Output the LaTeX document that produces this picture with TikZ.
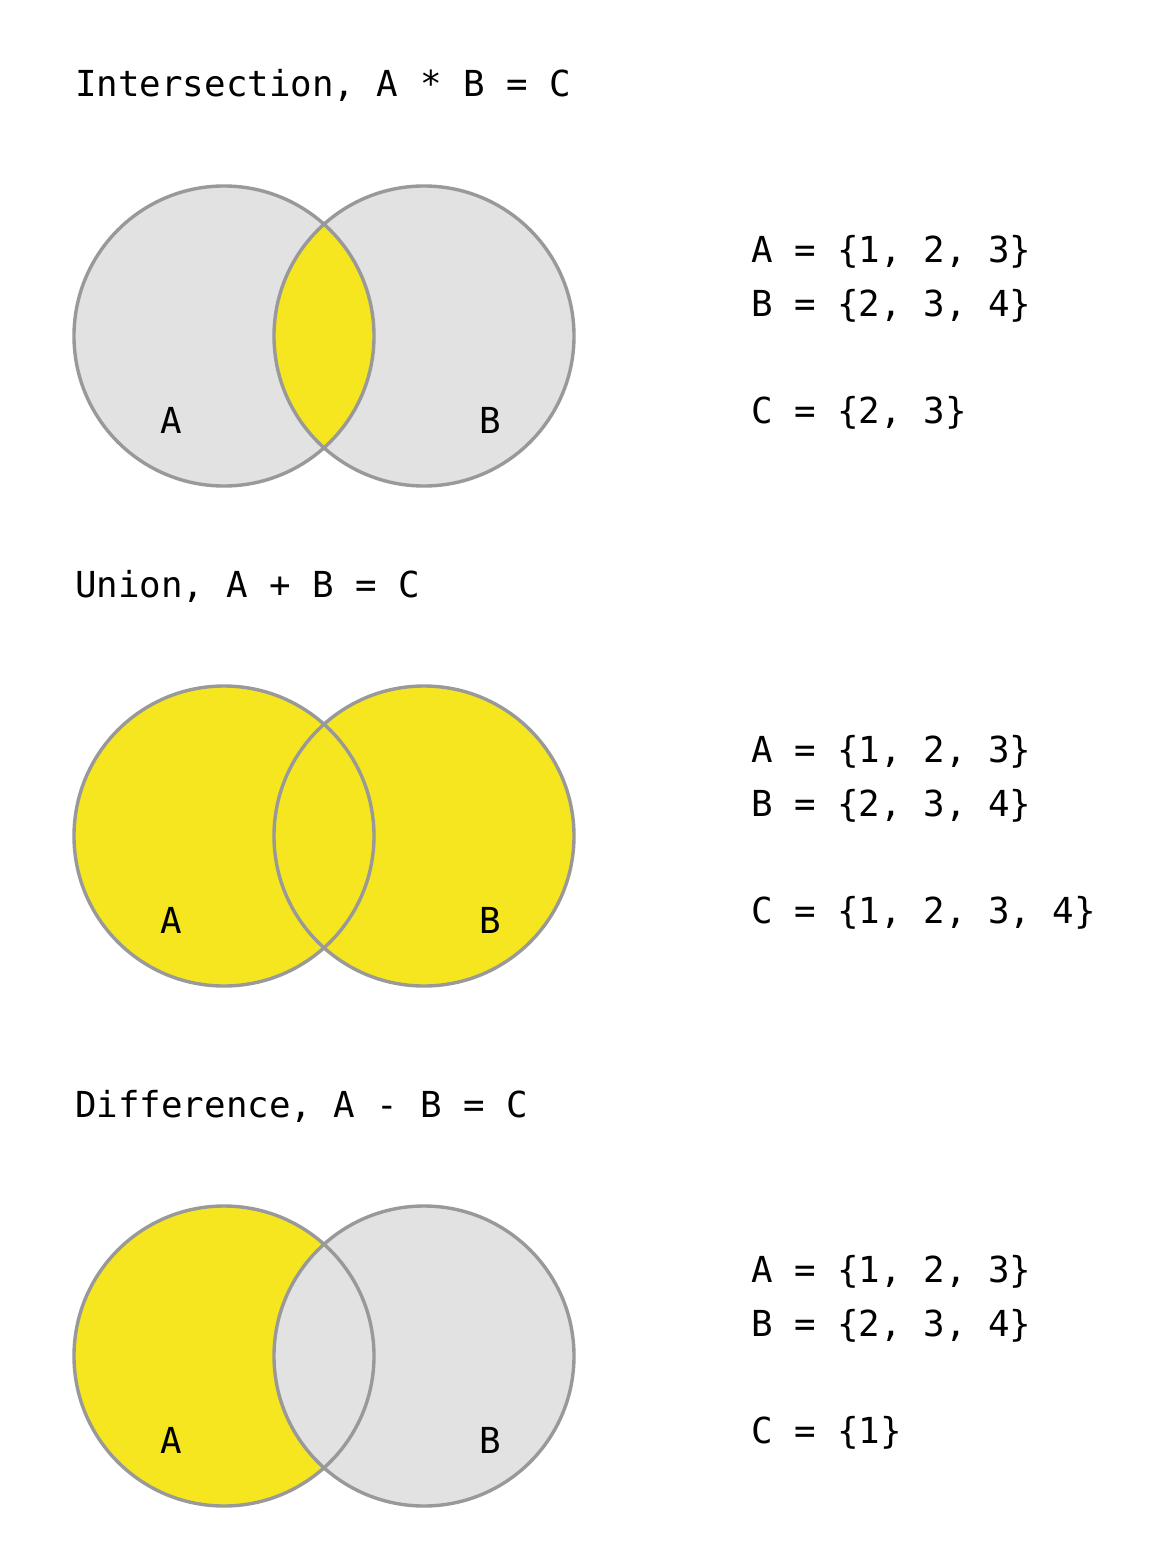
\documentclass[tikz,border=0pt]{standalone}
\usepackage{fontspec}
\newfontfamily\vennmono{DejaVu Sans Mono}
\definecolor{vyellow}{HTML}{F6E61F}
\definecolor{vgray}{HTML}{E2E2E2}
\definecolor{vline}{HTML}{999999}
\begin{document}
\begin{tikzpicture}[x=1pt,y=-1pt,
  txt/.style={anchor=base west,inner sep=0pt,font=\vennmono\fontsize{35.8}{40}\selectfont},
  lbl/.style={anchor=base,inner sep=0pt,font=\vennmono\fontsize{35.8}{40}\selectfont},
  outline/.style={draw=vline,line width=3.4pt}]
\useasboundingbox[fill=white] (0,0) rectangle (1152,1552);
% ---------- Intersection ----------
\node[txt] (t1) at (75,97) {Intersection, A * B = C};
\fill[vgray] (224,336) circle (150);
\fill[vgray] (424,336) circle (150);
\begin{scope}
  \clip (224,336) circle (150);
  \fill[vyellow] (424,336) circle (150);
\end{scope}
\draw[outline] (224,336) circle (150);
\draw[outline] (424,336) circle (150);
\node[lbl] (a1) at (171,433) {A};
\node[lbl] (b1) at (490,433) {B};
\node[txt] (sa1) at (751,262) {A = \{1, 2, 3\}};
\node[txt] (sb1) at (751,316) {B = \{2, 3, 4\}};
\node[txt] (sc1) at (751,423) {C = \{2, 3\}};
% ---------- Union ----------
\node[txt] (t2) at (75,597) {Union, A + B = C};
\fill[vyellow] (224,836) circle (150);
\fill[vyellow] (424,836) circle (150);
\draw[outline] (224,836) circle (150);
\draw[outline] (424,836) circle (150);
\node[lbl] (a2) at (171,933) {A};
\node[lbl] (b2) at (490,933) {B};
\node[txt] (sa2) at (751,762) {A = \{1, 2, 3\}};
\node[txt] (sb2) at (751,816) {B = \{2, 3, 4\}};
\node[txt] (sc2) at (751,923) {C = \{1, 2, 3, 4\}};
% ---------- Difference ----------
\node[txt] (t3) at (75,1117) {Difference, A - B = C};
\fill[vyellow] (224,1356) circle (150);
\fill[vgray] (424,1356) circle (150);
\draw[outline] (224,1356) circle (150);
\draw[outline] (424,1356) circle (150);
\node[lbl] (a3) at (171,1453) {A};
\node[lbl] (b3) at (490,1453) {B};
\node[txt] (sa3) at (751,1282) {A = \{1, 2, 3\}};
\node[txt] (sb3) at (751,1336) {B = \{2, 3, 4\}};
\node[txt] (sc3) at (751,1443) {C = \{1\}};
\end{tikzpicture}
\end{document}
